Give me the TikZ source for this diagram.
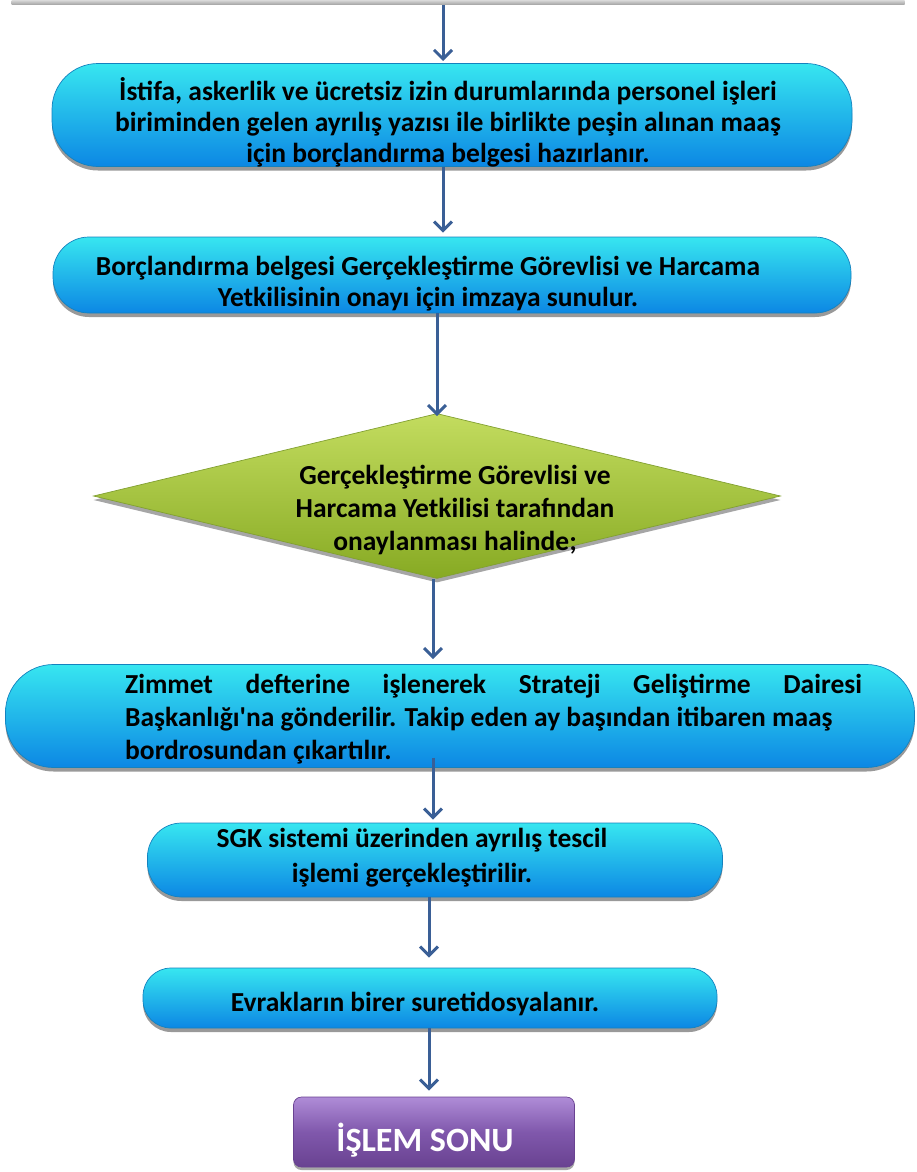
\documentclass[tikz,border=0pt]{standalone}
\usepackage{fontspec}
\setmainfont{Carlito}
\usetikzlibrary{arrows.meta,shapes.geometric,shadows,calc}
\definecolor{ctop}{RGB}{55,230,240}
\definecolor{cbot}{RGB}{12,135,228}
\definecolor{cdraw}{RGB}{20,130,190}
\definecolor{gtop}{RGB}{195,220,95}
\definecolor{gbot}{RGB}{135,170,35}
\definecolor{gdraw}{RGB}{130,160,50}
\definecolor{ptop}{RGB}{175,140,215}
\definecolor{pmid}{RGB}{128,88,172}
\definecolor{pbot}{RGB}{105,66,145}
\definecolor{arc}{RGB}{58,95,150}
\begin{document}
\begin{tikzpicture}[x=1pt,y=1pt,
  txt/.style={font=\bfseries\fontsize{27.5}{31}\selectfont, align=center, inner sep=0pt},
  flow/.style={rectangle, inner sep=0pt, top color=ctop, bottom color=cbot, draw=cdraw, line width=0.7pt,
    drop shadow={shadow xshift=0pt, shadow yshift=-4pt, opacity=0.4, fill=black}},
  arr/.style={draw=arc, line width=3pt, -{Straight Barb[length=9pt,width=18pt]}}]
\useasboundingbox (0,0) rectangle (917,-1172);

% top (cut-off) box
\node[rectangle, minimum width=893pt, minimum height=6pt, inner sep=0pt,
      top color=gray!20, bottom color=gray!75] (b0) at (458,-2) {};

% box 1
\node[flow, rounded corners=46pt, minimum width=800pt, minimum height=103pt] (b1) at (452,-115) {};
\node[txt] (t1) at (448,-122) {İstifa, askerlik ve ücretsiz izin durumlarında personel işleri\\
biriminden gelen ayrılış yazısı ile birlikte peşin alınan maaş\\
için borçlandırma belgesi hazırlanır.};

% box 2
\node[flow, rounded corners=36pt, minimum width=798pt, minimum height=76pt] (b2) at (452,-275) {};
\node[txt] (t2) at (428,-284) {Borçlandırma belgesi Gerçekleştirme Görevlisi ve Harcama\\
Yetkilisinin onayı için imzaya sunulur.};

% diamond
\node[diamond, inner sep=0pt, minimum width=687pt, minimum height=165pt, aspect=4.16,
      top color=gtop, bottom color=gbot, draw=gdraw, line width=0.7pt,
      drop shadow={shadow xshift=0pt, shadow yshift=-4pt, opacity=0.35, fill=black}] (d) at (437,-496) {};
\node[txt, font=\bfseries\fontsize{27.5}{33}\selectfont] (td) at (455,-510) {Gerçekleştirme Görevlisi ve\\
Harcama Yetkilisi tarafından\\
onaylanması halinde;};

% box 5
\node[flow, rounded corners=48pt, minimum width=909pt, minimum height=103pt] (b5) at (460,-716) {};
\node[txt, font=\bfseries\fontsize{27.5}{33}\selectfont, align=left, anchor=north west] (t5) at (125,-674)
{\makebox[737pt][s]{Zimmet defterine işlenerek Strateji Geliştirme Dairesi}\\
Başkanlığı\textquotesingle na gönderilir. Takip eden ay başından itibaren maaş\\
bordrosundan çıkartılır.};

% box 6
\node[flow, rounded corners=34pt, minimum width=575pt, minimum height=74pt] (b6) at (435,-860) {};
\node[txt, font=\bfseries\fontsize{27.5}{35}\selectfont] (t6) at (412,-858) {SGK sistemi üzerinden ayrılış tescil\\
işlemi gerçekleştirilir.};

% box 7
\node[flow, rounded corners=28pt, minimum width=574pt, minimum height=60pt] (b7) at (430,-998) {};
\node[txt] (t7) at (415,-1004) {Evrakların birer suretidosyalanır.};

% end
\node[rectangle, rounded corners=8pt, inner sep=0pt, minimum width=281pt, minimum height=70pt,
      top color=ptop, bottom color=pbot, middle color=pmid, draw=pbot, line width=0.7pt,
      drop shadow={shadow xshift=0pt, shadow yshift=-3pt, opacity=0.35, fill=black}] (e) at (434,-1132) {};
\node[txt, text=white, font=\bfseries\fontsize{34}{38}\selectfont] (te) at (425,-1140) {İŞLEM SONU};

% arrows
\draw[arr] ([xshift=-15pt]b0.south) -- ([xshift=-15pt]b0.south |- 0,-61);
\draw[arr] ([xshift=-9pt]b1.south) -- ([xshift=-9pt,yshift=4pt]b1.south |- b2.north);
\draw[arr] ([xshift=-15pt]b2.south) -- ([xshift=-15pt,yshift=-3pt]b2.south |- d.north);
\draw[arr] ([xshift=-4pt]d.south) -- ([xshift=-4pt,yshift=5pt]d.south |- b5.north);
\draw[arr] ([xshift=-27pt,yshift=10pt]b5.south) -- ([xshift=-27pt,yshift=3pt]b5.south |- b6.north);
\draw[arr] ([xshift=-6pt]b6.south) -- ([xshift=-6pt,yshift=10pt]b6.south |- b7.north);
\draw[arr] ([xshift=-1pt]b7.south) -- ([xshift=-1pt,yshift=6pt]b7.south |- e.north);
\end{tikzpicture}
\end{document}
